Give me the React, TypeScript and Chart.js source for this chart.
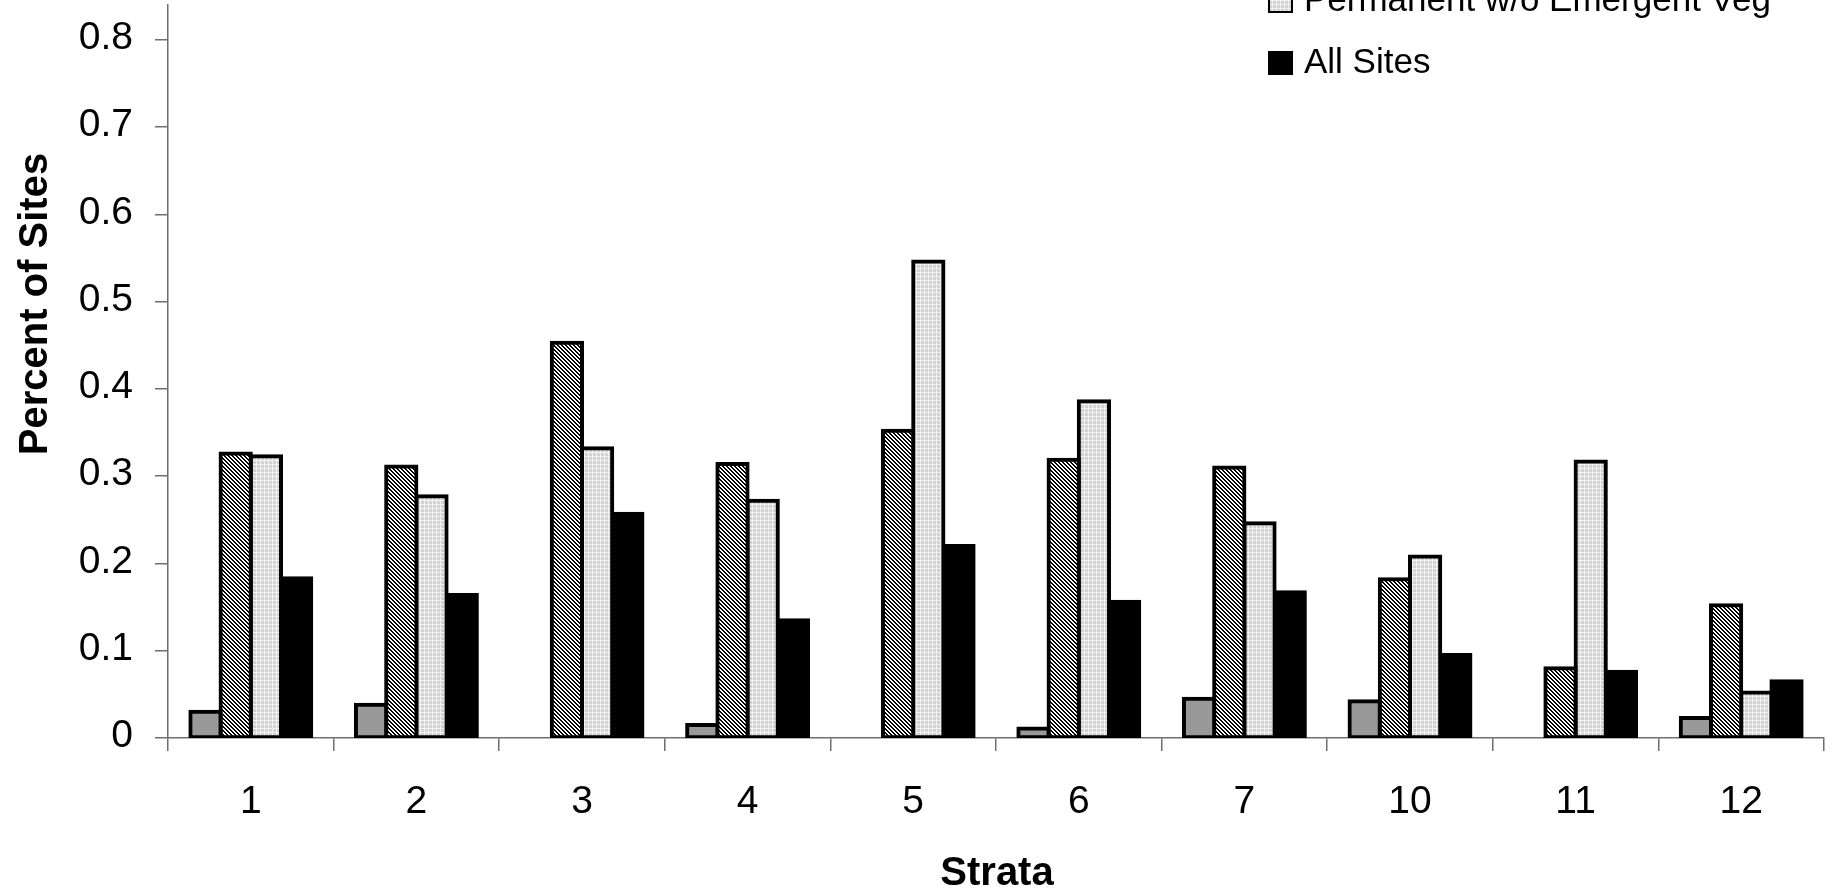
import React, { useEffect, useRef } from 'react';
import { Chart, registerables } from 'chart.js';

Chart.register(...registerables);

const categories = ['1', '2', '3', '4', '5', '6', '7', '10', '11', '12'];
const seriesNames = [
  'Seasonal',
  'Permanent w/ Emergent Veg',
  'Permanent w/o Emergent Veg',
  'All Sites',
];
const seasonal = [0.03, 0.038, null, 0.015, null, 0.011, 0.045, 0.042, null, 0.023];
const permWithVeg = [0.326, 0.311, 0.453, 0.314, 0.352, 0.319, 0.31, 0.182, 0.08, 0.152];
const permWithoutVeg = [0.323, 0.277, 0.332, 0.272, 0.546, 0.386, 0.246, 0.208, 0.317, 0.052];
const allSites = [0.183, 0.164, 0.257, 0.135, 0.22, 0.156, 0.167, 0.095, 0.076, 0.065];
const xTitle = 'Strata';
const yTitle = 'Percent of Sites';
const yMin = 0;
const yMax = 0.84;
const yStep = 0.1;

const OFF = 200;
const W = 1837;
const H = 891 + OFF;
const FONT = '"Liberation Sans", Arial, Helvetica, sans-serif';
const AXIS = '#6e6e6e';

function makeHatch(): CanvasPattern | string {
  const c = document.createElement('canvas');
  c.width = 4;
  c.height = 4;
  const g = c.getContext('2d');
  if (!g) return '#777';
  g.fillStyle = '#ffffff';
  g.fillRect(0, 0, 4, 4);
  g.fillStyle = '#000000';
  for (let y = 0; y < 4; y++) {
    for (let x = 0; x < 4; x++) {
      if ((((x - y) % 4) + 4) % 4 < 2) g.fillRect(x, y, 1, 1);
    }
  }
  return g.createPattern(c, 'repeat') || '#777';
}

function makeDots(): CanvasPattern | string {
  const c = document.createElement('canvas');
  c.width = 4;
  c.height = 4;
  const g = c.getContext('2d');
  if (!g) return '#ddd';
  g.fillStyle = '#d2d2d2';
  g.fillRect(0, 0, 4, 4);
  g.fillStyle = '#f2f2f2';
  g.fillRect(0, 0, 4, 1);
  g.fillRect(0, 0, 1, 4);
  return g.createPattern(c, 'repeat') || '#ddd';
}

export default function App() {
  const ref = useRef<HTMLCanvasElement | null>(null);

  useEffect(() => {
    if (!ref.current) return;
    const hatch = makeHatch();
    const dots = makeDots();
    const fills: any[] = ['#999999', hatch, dots, '#000000'];
    const values = [seasonal, permWithVeg, permWithoutVeg, allSites];

    const overlay = {
      id: 'overlay',
      afterDraw(chart: any) {
        const ctx = chart.ctx as CanvasRenderingContext2D;
        ctx.save();
        ctx.fillStyle = '#000';
        ctx.font = `bold 40px ${FONT}`;
        ctx.textAlign = 'center';
        ctx.textBaseline = 'alphabetic';
        ctx.fillText(xTitle, 997, 885 + OFF);
        ctx.save();
        ctx.translate(47, 304 + OFF);
        ctx.rotate(-Math.PI / 2);
        ctx.fillText(yTitle, 0, 0);
        ctx.restore();

        ctx.font = `35px ${FONT}`;
        ctx.textAlign = 'left';
        for (let i = 0; i < seriesNames.length; i++) {
          const cy = 63 + OFF - (seriesNames.length - 1 - i) * 62;
          ctx.fillStyle = fills[i];
          ctx.fillRect(1269, cy - 11, 23, 22);
          ctx.lineWidth = 2;
          ctx.strokeStyle = '#000';
          ctx.strokeRect(1269, cy - 11, 23, 22);
          ctx.fillStyle = '#000';
          ctx.fillText(seriesNames[i], 1304, cy + 10);
        }
        ctx.restore();
      },
    };

    const chart = new Chart(ref.current, {
      type: 'bar',
      data: {
        labels: categories,
        datasets: values.map((v, i) => ({
          label: seriesNames[i],
          data: v,
          backgroundColor: fills[i],
          borderColor: '#000000',
          borderWidth: 4,
          borderSkipped: false,
          inflateAmount: 2,
          categoryPercentage: 0.73,
          barPercentage: 1.0,
        })),
      },
      options: {
        responsive: false,
        animation: false,
        devicePixelRatio: 1,
        layout: { padding: { left: 0, right: 13, top: 205, bottom: 0 } },
        plugins: {
          legend: { display: false },
          tooltip: { enabled: false },
          title: { display: false },
        },
        scales: {
          x: {
            grid: {
              offset: true,
              drawOnChartArea: false,
              drawTicks: true,
              tickLength: 13,
              color: AXIS,
              lineWidth: 1.5,
            },
            border: { display: true, color: AXIS, width: 1.5 },
            ticks: {
              font: { family: FONT, size: 39 },
              color: '#000',
              padding: 28,
              maxRotation: 0,
              autoSkip: false,
            },
            afterFit: (s: any) => {
              s.height = H - 938;
            },
          },
          y: {
            min: yMin,
            max: yMax,
            grid: {
              drawOnChartArea: false,
              drawTicks: true,
              tickLength: 13,
              color: AXIS,
              lineWidth: 1.5,
            },
            border: { display: true, color: AXIS, width: 1.5 },
            ticks: {
              stepSize: yStep,
              includeBounds: false,
              font: { family: FONT, size: 39 },
              color: '#000',
              padding: 22,
              labelOffset: -1.5,
            },
            afterFit: (s: any) => {
              s.width = 168;
            },
          },
        },
      },
      plugins: [overlay],
    });

    return () => chart.destroy();
  }, []);

  return (
    <div style={{ position: 'absolute', left: 0, top: -OFF, width: W, height: H, background: '#fff' }}>
      <canvas ref={ref} width={W} height={H} style={{ width: W, height: H, display: 'block' }} />
    </div>
  );
}
